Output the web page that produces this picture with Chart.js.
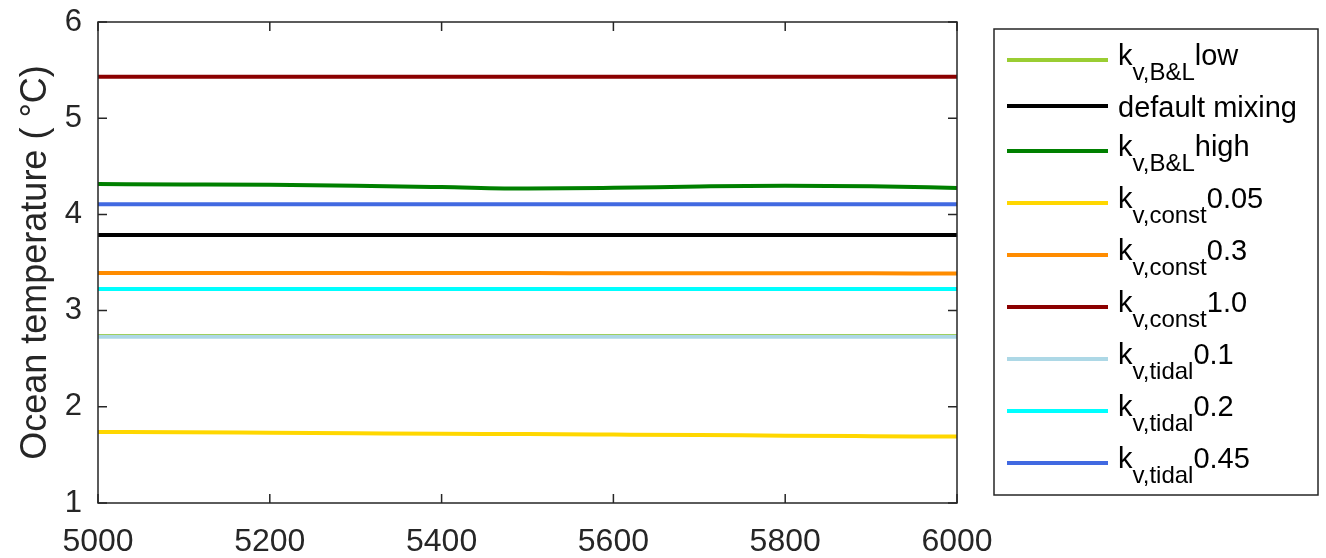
<!DOCTYPE html>
<html>
<head>
<meta charset="utf-8">
<script src="https://cdn.jsdelivr.net/npm/chart.js@4.4.1/dist/chart.umd.min.js"></script>
<style>
  html, body { margin: 0; padding: 0; background: #fff; }
  #wrap { width: 1326px; height: 558px; position: relative; overflow: hidden; }
</style>
</head>
<body>
<div id="wrap"><canvas id="oceanChart" width="1326" height="558"></canvas></div>
<script>
// model years on the x axis
const years = [5000, 5100, 5200, 5300, 5400, 5500, 5600, 5700, 5800, 5900, 6000];

// ocean temperature (deg C) for each mixing scheme
const bLow      = [2.735, 2.735, 2.735, 2.735, 2.735, 2.735, 2.735, 2.735, 2.735, 2.735, 2.735];
const defMixing = [3.786, 3.786, 3.786, 3.786, 3.786, 3.786, 3.786, 3.786, 3.786, 3.786, 3.786];
const bHigh     = [4.316, 4.312, 4.307, 4.298, 4.284, 4.268, 4.276, 4.290, 4.298, 4.292, 4.275];
const const005  = [1.738, 1.735, 1.730, 1.725, 1.720, 1.716, 1.711, 1.706, 1.700, 1.695, 1.690];
const const03   = [3.392, 3.392, 3.391, 3.391, 3.390, 3.390, 3.389, 3.389, 3.388, 3.387, 3.386];
const const10   = [5.430, 5.430, 5.430, 5.430, 5.430, 5.430, 5.430, 5.430, 5.430, 5.430, 5.430];
const tidal01   = [2.727, 2.727, 2.727, 2.727, 2.727, 2.727, 2.727, 2.727, 2.727, 2.727, 2.727];
const tidal02   = [3.225, 3.225, 3.225, 3.225, 3.225, 3.225, 3.225, 3.225, 3.225, 3.225, 3.225];
const tidal045  = [4.105, 4.105, 4.105, 4.105, 4.105, 4.105, 4.105, 4.105, 4.105, 4.105, 4.105];

// legend text: main part, subscript, tail
const labelMain = ["k", "default mixing", "k", "k", "k", "k", "k", "k", "k"];
const labelSub  = ["v,B&L", "", "v,B&L", "v,const", "v,const", "v,const", "v,tidal", "v,tidal", "v,tidal"];
const labelTail = ["low", "", "high", "0.05", "0.3", "1.0", "0.1", "0.2", "0.45"];

const yTicks = [1, 2, 3, 4, 5, 6];
const xTicks = [5000, 5200, 5400, 5600, 5800, 6000];

const series = [bLow, defMixing, bHigh, const005, const03, const10, tidal01, tidal02, tidal045];
const colors = ["#9ACD32", "#000000", "#008000", "#FFD700", "#FF8C00", "#8B0000", "#ADD8E6", "#00FFFF", "#4169E1"];

const FONT = "'Liberation Sans', Arial, Helvetica, sans-serif";
const AX = "#262626";

// box around the axes with inward ticks, like matlab
const boxPlugin = {
  id: "boxTicks",
  afterDraw(chart) {
    const c = chart.ctx, a = chart.chartArea;
    const xs = chart.scales.x, ys = chart.scales.y;
    const tl = 9;
    c.save();
    c.strokeStyle = AX;
    c.lineWidth = 1.5;
    c.strokeRect(a.left, a.top, a.right - a.left, a.bottom - a.top);
    c.beginPath();
    xTicks.forEach(v => {
      const px = xs.getPixelForValue(v);
      c.moveTo(px, a.bottom); c.lineTo(px, a.bottom - tl);
      c.moveTo(px, a.top); c.lineTo(px, a.top + tl);
    });
    yTicks.forEach(v => {
      const py = ys.getPixelForValue(v);
      c.moveTo(a.left, py); c.lineTo(a.left + tl, py);
      c.moveTo(a.right, py); c.lineTo(a.right - tl, py);
    });
    c.stroke();
    c.restore();
  }
};

// legend with subscripts drawn straight on the canvas
const legendPlugin = {
  id: "subLegend",
  afterDraw(chart) {
    const c = chart.ctx;
    const rowY = [60, 106, 151, 203, 255, 307, 359, 411, 463];
    c.save();
    c.fillStyle = "#fff";
    c.fillRect(994, 29, 324, 466);
    c.strokeStyle = AX;
    c.lineWidth = 1.5;
    c.strokeRect(994, 29, 324, 466);
    labelMain.forEach((m, i) => {
      const y = rowY[i];
      c.strokeStyle = colors[i];
      c.lineWidth = 4;
      c.beginPath();
      c.moveTo(1007, y); c.lineTo(1108, y);
      c.stroke();
      c.fillStyle = "#000";
      c.textBaseline = "alphabetic";
      let x = 1118;
      c.font = "29px " + FONT;
      if (!labelSub[i]) {
        c.fillText(m, x, y + 11);
        return;
      }
      const base = y + 5;
      c.fillText(m, x, base);
      x += c.measureText(m).width;
      c.font = "24px " + FONT;
      c.fillText(labelSub[i], x, base + 15);
      x += c.measureText(labelSub[i]).width;
      c.font = "29px " + FONT;
      c.fillText(labelTail[i], x, base);
    });
    c.restore();
  }
};

new Chart(document.getElementById("oceanChart"), {
  type: "line",
  data: {
    labels: years,
    datasets: series.map((d, i) => ({
      label: labelMain[i] + labelSub[i] + labelTail[i],
      data: d.map((v, j) => ({ x: years[j], y: v })),
      borderColor: colors[i],
      backgroundColor: colors[i],
      borderWidth: 4,
      pointRadius: 0,
      cubicInterpolationMode: "monotone",
      order: series.length - i
    }))
  },
  options: {
    responsive: false,
    animation: false,
    layout: { padding: { top: 22, right: 369, bottom: 0, left: 0 } },
    plugins: { legend: { display: false }, tooltip: { enabled: false } },
    scales: {
      x: {
        type: "linear",
        min: 5000, max: 6000,
        afterBuildTicks: s => { s.ticks = xTicks.map(v => ({ value: v })); },
        afterFit: s => { s.height = 55; s.paddingLeft = 0; s.paddingRight = 0; },
        grid: { display: false, drawTicks: false },
        border: { display: false },
        ticks: {
          color: AX, font: { family: FONT, size: 32 }, padding: 20, maxRotation: 0,
          callback: v => String(v)
        }
      },
      y: {
        min: 1, max: 6,
        afterBuildTicks: s => { s.ticks = yTicks.map(v => ({ value: v })); },
        afterFit: s => { s.width = 98; s.paddingTop = 0; s.paddingBottom = 0; },
        grid: { display: false, drawTicks: false },
        border: { display: false },
        ticks: { color: AX, font: { family: FONT, size: 31 }, padding: 16 },
        title: {
          display: true,
          text: "Ocean temperature ( °C)",
          color: AX,
          font: { family: FONT, size: 36 },
          padding: { top: 14, bottom: 0 }
        }
      }
    }
  },
  plugins: [boxPlugin, legendPlugin]
});
</script>
</body>
</html>
